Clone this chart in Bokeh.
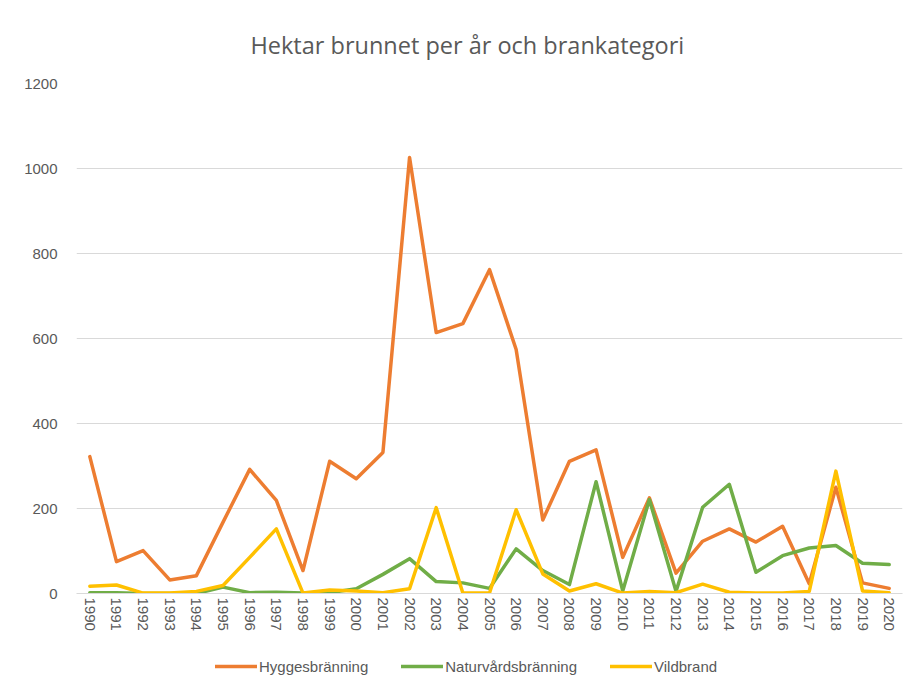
from bokeh.plotting import figure
from bokeh.models import Legend, LegendItem, FixedTicker, Title
from bokeh.layouts import column
from bokeh.embed import file_html
from bokeh.resources import INLINE

years = list(range(1990, 2021))
hygges = [322, 75, 101, 32, 42, 168, 292, 219, 54, 311, 270, 332, 1026, 614, 635, 762,
          574, 173, 311, 338, 85, 225, 48, 123, 152, 121, 158, 23, 250, 25, 12]
natur = [2, 2, 0, 0, 0, 15, 2, 3, 1, 2, 11, 45, 82, 28, 25, 12,
         105, 54, 21, 263, 6, 221, 5, 203, 257, 50, 89, 107, 113, 71, 68]
vild = [17, 20, 1, 1, 5, 19, 85, 152, 1, 8, 6, 2, 11, 202, 1, 1,
        197, 46, 6, 23, 1, 5, 2, 22, 3, 1, 1, 5, 288, 6, 2]
series_names = ["Hyggesbränning", "Naturvårdsbränning", "Vildbrand"]
colors = ["#ED7D31", "#70AD47", "#FFC000"]
y_ticks = [0, 200, 400, 600, 800, 1000, 1200]

FONT = "Liberation Sans"
TFONT = "Open Sans"
TXT = "#595959"

p = figure(width=914, height=640, output_backend="svg", toolbar_location=None,
           x_range=(1989.5, 2020.5), y_range=(0, 1200),
           min_border_left=76, min_border_right=12, min_border_top=83, min_border_bottom=47)
p.outline_line_color = None
p.title = Title(text="Hektar brunnet per år och brankategori", align="left",
                text_font=TFONT, text_font_size="23.5px", text_font_style="normal",
                text_color=TXT, offset=174, standoff=46)

p.xgrid.grid_line_color = None
p.ygrid.grid_line_color = "#d9d9d9"
p.ygrid.ticker = FixedTicker(ticks=y_ticks)

p.yaxis.ticker = FixedTicker(ticks=y_ticks)
p.yaxis.axis_line_color = None
p.yaxis.major_tick_line_color = None
p.yaxis.minor_tick_line_color = None
p.yaxis.major_label_text_font = FONT
p.yaxis.major_label_text_font_size = "15px"
p.yaxis.major_label_text_color = TXT
p.yaxis.major_label_standoff = 13

p.xaxis.ticker = FixedTicker(ticks=years)
p.xaxis.axis_line_color = "#d9d9d9"
p.xaxis.major_tick_line_color = None
p.xaxis.minor_tick_line_color = None
p.xaxis.major_label_orientation = "vertical"
p.xaxis.major_label_text_font = FONT
p.xaxis.major_label_text_font_size = "15px"
p.xaxis.major_label_text_color = TXT
p.xaxis.major_label_standoff = -2

series = [hygges, natur, vild]
for name, vals, c in zip(series_names, series, colors):
    p.line(years, vals, line_color=c, line_width=3.5, line_join="round", line_cap="round")

# legend strip below the chart (its lines lie outside its visible range; only the legend shows)
lg = figure(width=914, height=45, output_backend="svg", toolbar_location=None,
            x_axis_type=None, y_axis_type=None, x_range=(0, 1), y_range=(-20, -10),
            min_border=0)
lg.outline_line_color = None
items = []
for name, vals, c in zip(series_names, series, colors):
    r = lg.line(years, vals, line_color=c, line_width=3.5, line_cap="round")
    items.append(LegendItem(label=name, renderers=[r]))
legend = Legend(items=items, orientation="horizontal", location=(139, 9),
                border_line_color=None, background_fill_alpha=0,
                label_text_font=FONT, label_text_font_size="15px", label_text_color=TXT,
                glyph_width=42, label_standoff=2, spacing=33, margin=0, padding=4)
lg.add_layout(legend, "center")

layout = column(p, lg, spacing=0)
open("out.html", "w").write(file_html(layout, INLINE))
